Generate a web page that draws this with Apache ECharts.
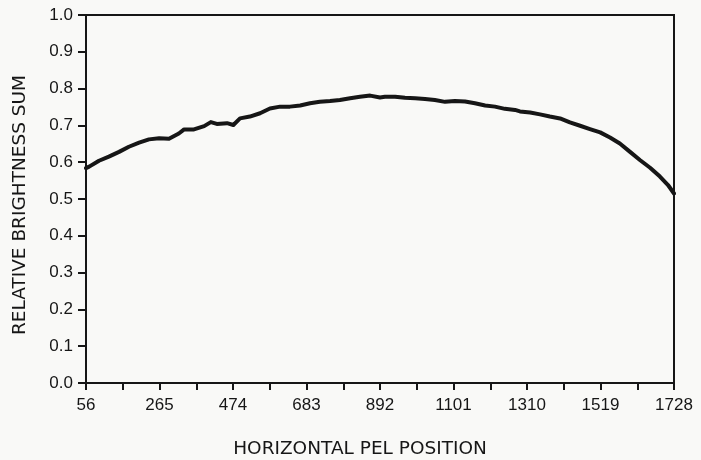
<!DOCTYPE html>
<html>
<head>
<meta charset="utf-8">
<title>Relative brightness sum</title>
<script src="https://cdn.jsdelivr.net/npm/echarts@6/dist/echarts.min.js"></script>
<style>
  html, body { margin: 0; padding: 0; background: #f9f9f7; }
  #chart { width: 701px; height: 460px; }
</style>
</head>
<body>
<div id="chart"></div>
<script>
// Horizontal pel position of each sample along the scan line
const pelPositions = [
  56, 65, 93, 121, 150, 178, 207, 235, 264, 292, 320, 335, 363, 392, 411, 428,
  457, 475, 494, 522, 551, 579, 608, 636, 665, 693, 721, 750, 778, 807, 835,
  864, 892, 906, 935, 963, 992, 1020, 1048, 1077, 1105, 1134, 1162, 1191, 1219,
  1247, 1276, 1290, 1319, 1347, 1375, 1404, 1432, 1461, 1489, 1518, 1546, 1574,
  1603, 1631, 1660, 1688, 1711, 1728
];

// Relative brightness sum at each pel position
const brightness = [
  0.584, 0.588, 0.604, 0.615, 0.628, 0.642, 0.653, 0.662, 0.665, 0.664, 0.678, 0.689,
  0.689, 0.698, 0.709, 0.704, 0.706, 0.701, 0.719, 0.724, 0.733, 0.746, 0.751, 0.751,
  0.754, 0.760, 0.764, 0.766, 0.769, 0.774, 0.778, 0.781, 0.776, 0.778, 0.778, 0.775,
  0.774, 0.772, 0.769, 0.764, 0.766, 0.765, 0.760, 0.754, 0.751, 0.745, 0.742, 0.738,
  0.735, 0.730, 0.724, 0.719, 0.708, 0.699, 0.690, 0.681, 0.667, 0.651, 0.628, 0.606,
  0.585, 0.561, 0.538, 0.515
];

// Axis tick labels
const pelTicks = [56, 265, 474, 683, 892, 1101, 1310, 1519, 1728];
const brightnessTicks = ['0.0', '0.1', '0.2', '0.3', '0.4', '0.5', '0.6', '0.7', '0.8', '0.9', '1.0'];

// The x scale runs from the first pel tick; values are stored relative to it
const pelOrigin = pelTicks[0];
const pelStep = pelTicks[1] - pelTicks[0];
const pelSpan = pelTicks[pelTicks.length - 1] - pelOrigin;

const seriesData = pelPositions.map((p, i) => [p - pelOrigin, brightness[i]]);

const ink = '#161616';
const font = '"Liberation Sans", Arial, Helvetica, sans-serif';
const titleFont = '"DejaVu Sans", Verdana, sans-serif';

const chart = echarts.init(document.getElementById('chart'), null, { renderer: 'canvas' });

chart.setOption({
  backgroundColor: '#f9f9f7',
  animation: false,
  grid: {
    left: 86, right: 27, top: 15, bottom: 77,
    containLabel: false,
    outerBoundsMode: 'none',
    show: true,
    borderColor: ink,
    borderWidth: 2,
    backgroundColor: 'transparent'
  },
  xAxis: {
    type: 'value',
    min: 0,
    max: pelSpan,
    interval: pelStep,
    name: 'HORIZONTAL PEL POSITION',
    nameLocation: 'middle',
    nameGap: 57,
    nameTextStyle: { color: ink, fontFamily: titleFont, fontSize: 18.5, padding: [0, 40, 0, 0] },
    axisLine: { show: true, lineStyle: { color: ink, width: 2 } },
    axisTick: { show: true, inside: false, length: 7, lineStyle: { color: ink, width: 2 } },
    minorTick: { show: true, splitNumber: 2, length: 7, lineStyle: { color: ink, width: 2 } },
    splitLine: { show: false },
    axisLabel: {
      color: ink, fontFamily: font, fontSize: 17, margin: 14,
      formatter: v => String(Math.round(v + pelOrigin))
    }
  },
  yAxis: {
    type: 'value',
    min: 0,
    max: 1,
    interval: 0.1,
    name: 'RELATIVE BRIGHTNESS SUM',
    nameLocation: 'middle',
    nameGap: 56,
    nameRotate: 90,
    nameTextStyle: { color: ink, fontFamily: titleFont, fontSize: 18.5, padding: [0, 12, 0, 0] },
    axisLine: { show: true, lineStyle: { color: ink, width: 2 } },
    axisTick: { show: true, inside: false, length: 8, lineStyle: { color: ink, width: 2 } },
    splitLine: { show: false },
    axisLabel: {
      color: ink, fontFamily: font, fontSize: 17, margin: 13,
      formatter: v => brightnessTicks[Math.round(v * 10)]
    }
  },
  series: [{
    type: 'line',
    data: seriesData,
    showSymbol: false,
    smooth: false,
    lineStyle: { color: ink, width: 4, join: 'round', cap: 'round' },
    z: 3
  }]
});
</script>
</body>
</html>
